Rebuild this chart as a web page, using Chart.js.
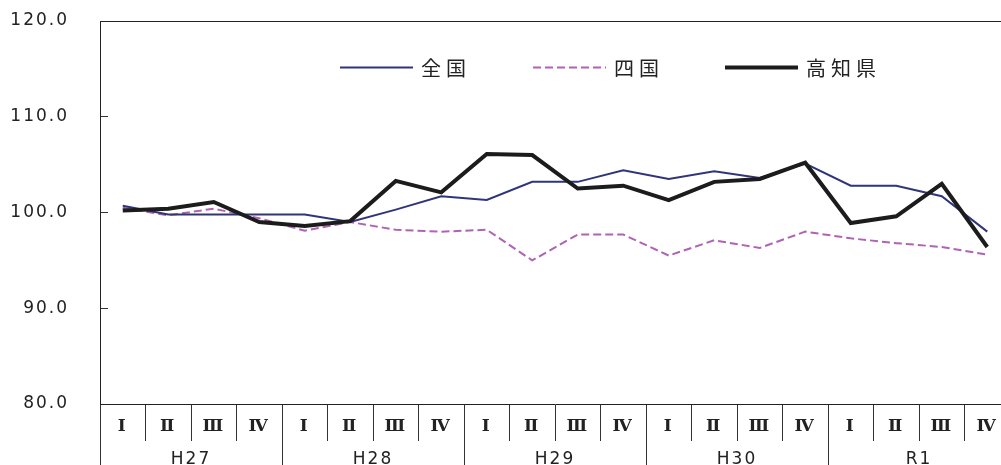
<!DOCTYPE html>
<html><head><meta charset="utf-8">
<script src="https://cdn.jsdelivr.net/npm/chart.js@4"></script>
<style>
html,body{margin:0;padding:0;background:#fff;overflow:hidden;width:1001px;height:465px}
#wrap{position:absolute;left:0;top:0;width:1011px;height:465px}
</style>
</head><body><div id="wrap"><canvas id="c" width="1011" height="465"></canvas></div>
<script>
// ---- data ----
const quarters = ['Ⅰ','Ⅱ','Ⅲ','Ⅳ','Ⅰ','Ⅱ','Ⅲ','Ⅳ','Ⅰ','Ⅱ','Ⅲ','Ⅳ','Ⅰ','Ⅱ','Ⅲ','Ⅳ','Ⅰ','Ⅱ','Ⅲ','Ⅳ'];
const years = ['H27','H28','H29','H30','R1'];
const seriesNames = ['全国','四国','高知県'];
const zenkoku = [100.7, 99.8, 99.8, 99.8, 99.8, 99.0, 100.3, 101.7, 101.3, 103.2, 103.2, 104.4, 103.5, 104.3, 103.6, 105.1, 102.8, 102.8, 101.7, 98.0];
const shikoku = [100.5, 99.7, 100.4, 99.4, 98.1, 99.0, 98.2, 98.0, 98.2, 95.0, 97.7, 97.7, 95.5, 97.1, 96.3, 98.0, 97.3, 96.8, 96.4, 95.6];
const kochi   = [100.2, 100.4, 101.1, 99.0, 98.6, 99.1, 103.3, 102.1, 106.1, 106.0, 102.5, 102.8, 101.3, 103.2, 103.5, 105.2, 98.9, 99.6, 103.0, 96.4];
const yMin = 80, yMax = 120, yStep = 10;

// ---- styles ----
const colors = ['#30357a', '#b062b4', '#1c1c1c'];

const spacingPlugin = {
  id: 'spacing',
  beforeDraw(chart) { chart.ctx.letterSpacing = '2px'; }
};

const framePlugin = {
  id: 'frame',
  afterDraw(chart) {
    const {ctx, chartArea: a} = chart;
    ctx.save();
    ctx.strokeStyle = '#222';
    ctx.lineWidth = 1;
    ctx.beginPath();
    ctx.moveTo(a.left, a.top + 0.5);
    ctx.lineTo(a.right, a.top + 0.5);
    ctx.lineTo(a.right, a.bottom);
    ctx.stroke();
    ctx.restore();
  }
};

const legendPlugin = {
  id: 'customLegend',
  afterDraw(chart) {
    const ctx = chart.ctx;
    const starts = [340, 533, 725];
    const lineLen = 73, y = 67.5;
    ctx.save();
    ctx.letterSpacing = '5px';
    ctx.font = '20px "Noto Sans CJK JP"';
    ctx.textBaseline = 'middle';
    ctx.fillStyle = '#222';
    chart.data.datasets.forEach((ds, i) => {
      const x = starts[i];
      ctx.save();
      ctx.strokeStyle = ds.borderColor;
      ctx.lineWidth = ds.borderWidth;
      ctx.setLineDash(ds.borderDash || []);
      ctx.beginPath();
      ctx.moveTo(x, y);
      ctx.lineTo(x + lineLen, y);
      ctx.stroke();
      ctx.restore();
      ctx.fillText(ds.label, x + lineLen + 8, y + 1);
    });
    ctx.restore();
  }
};

new Chart(document.getElementById('c'), {
  type: 'line',
  data: {
    labels: quarters,
    datasets: [
      { label: seriesNames[0], data: zenkoku, borderColor: colors[0], borderWidth: 2, order: 1 },
      { label: seriesNames[1], data: shikoku, borderColor: colors[1], borderWidth: 2, borderDash: [8, 4], order: 2 },
      { label: seriesNames[2], data: kochi, borderColor: colors[2], borderWidth: 4, order: 0 }
    ]
  },
  options: {
    responsive: false,
    animation: false,
    devicePixelRatio: 1,
    layout: { padding: { top: 21, left: 0, right: 1, bottom: 0 } },
    elements: { point: { radius: 0 }, line: { tension: 0, fill: false } },
    plugins: { legend: { display: false }, tooltip: { enabled: false } },
    scales: {
      x: {
        type: 'category',
        position: 'bottom',
        offset: true,
        weight: 0,
        grid: { offset: true, drawOnChartArea: false, tickLength: 37, color: '#333', lineWidth: 1 },
        border: { display: true, color: '#222', width: 1 },
        ticks: { autoSkip: false, maxRotation: 0, padding: -25, color: '#222',
                 font: { family: '"DejaVu Serif"', size: 17, weight: 'bold' } },
        afterFit: s => { s.height = 37; s.paddingLeft = 0; s.paddingRight = 0; }
      },
      x2: {
        type: 'category',
        position: 'bottom',
        labels: years,
        offset: true,
        weight: 1,
        grid: { offset: true, drawOnChartArea: false, tickLength: 24, color: '#333', lineWidth: 1 },
        border: { display: false },
        ticks: { autoSkip: false, maxRotation: 0, padding: -16, color: '#222',
                 font: { family: '"DejaVu Sans"', size: 17 } },
        afterFit: s => { s.height = 24; s.paddingLeft = 0; s.paddingRight = 0; }
      },
      y: {
        min: yMin, max: yMax,
        grid: { drawOnChartArea: false, tickLength: -8, color: '#333' },
        border: { display: true, color: '#222', width: 1 },
        ticks: { stepSize: yStep, padding: 39, color: '#222',
                 font: { family: '"DejaVu Sans"', size: 17 },
                 callback: v => Number(v).toFixed(1) },
        afterFit: s => { s.width = 100; s.paddingTop = 0; s.paddingBottom = 0; }
      }
    }
  },
  plugins: [spacingPlugin, framePlugin, legendPlugin]
});
</script>
</body></html>
